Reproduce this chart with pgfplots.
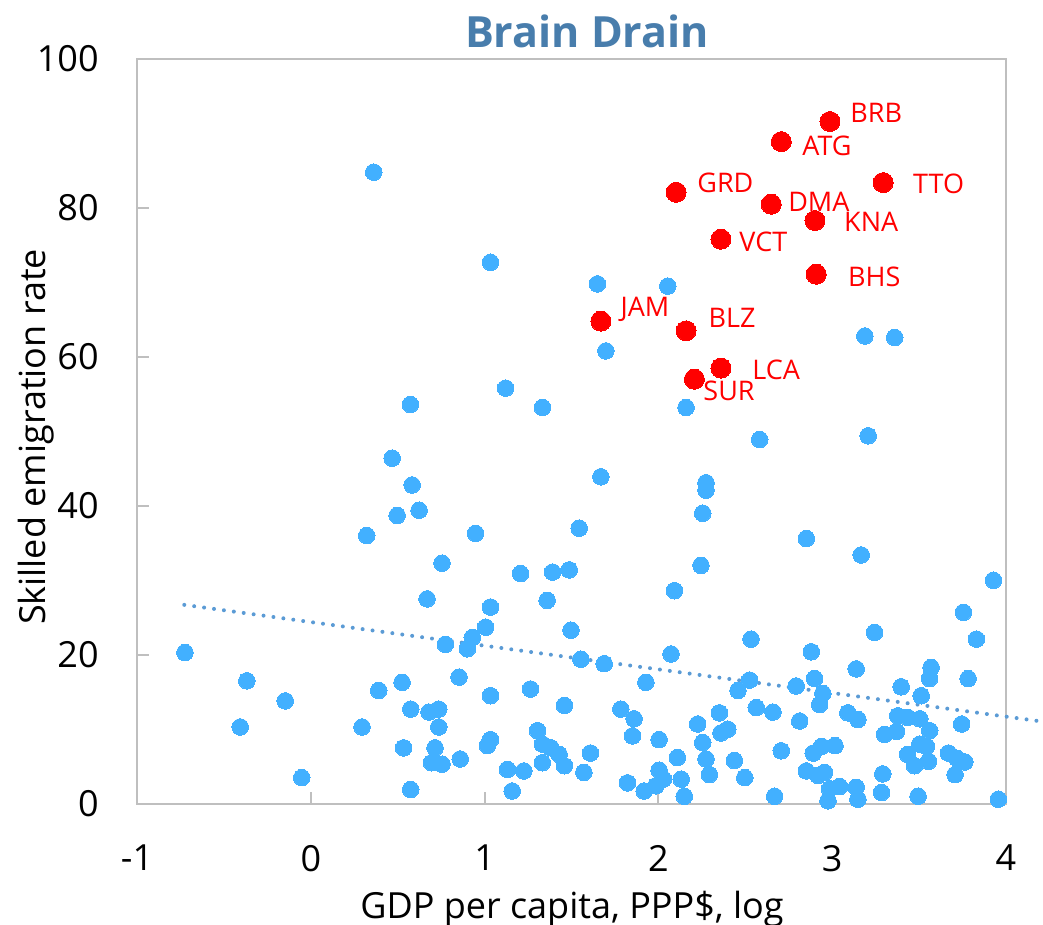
\documentclass[border=0pt]{standalone}
\usepackage{fontspec}
\setmainfont{Open Sans}
\usepackage{pgfplots}
\pgfplotsset{compat=1.18}

\definecolor{ptblue}{RGB}{66,176,255}
\definecolor{ttlblue}{RGB}{72,125,172}
\definecolor{trendblue}{RGB}{91,155,213}
\definecolor{axgray}{RGB}{191,191,191}

\begin{document}
\begin{tikzpicture}[x=1pt,y=1pt]
\path[use as bounding box] (-68.5,-60.65) rectangle (453,401.85);
\begin{axis}[
  at={(0,0)}, anchor=south west,
  scale only axis, width=434.5pt, height=372.35pt,
  xmin=-1, xmax=4, ymin=0, ymax=100,
  xtick={-1,0,1,2,3,4}, ytick={0,20,40,60,80,100},
  tick align=inside, xtick pos=bottom, ytick pos=left,
  major tick length=6pt,
  axis line style={axgray, line width=1pt},
  every tick/.style={axgray, line width=1pt},
  /pgf/number format/assume math mode=true,
  tick label style={font=\fontsize{18}{20}\selectfont, text=black},
  xticklabel style={anchor=north, inner sep=0pt, yshift=-20.5pt},
  yticklabel style={anchor=east, inner sep=0pt, xshift=-19pt},
  clip=false,
]
% trend line
\addplot[trendblue, line width=2pt, line cap=round, dash pattern=on 0pt off 5pt]
  coordinates {(-0.728,26.7) (4.187,11.1)};

% other countries
\addplot[only marks, mark=*, color=ptblue, line width=0pt, mark size=4.15pt]
  coordinates {
(0.362,84.8) (0.573,53.6) (1.034,72.7) (1.649,69.8) (2.054,69.5) (1.698,60.8)
(1.121,55.8) (1.333,53.2) (2.159,53.2) (3.188,62.8) (3.360,62.6) (2.583,48.9)
(3.207,49.4) (0.468,46.4) (0.583,42.8) (0.497,38.7) (0.623,39.4) (0.322,36.0)
(0.755,32.3) (0.669,27.5) (-0.724,20.3) (-0.368,16.5) (-0.147,13.8) (-0.406,10.3)
(-0.052,3.5) (0.391,15.2) (0.525,16.3) (0.295,10.3) (0.575,12.7) (0.680,12.3)
(0.736,12.7) (0.736,10.3) (0.534,7.5) (0.715,7.5) (0.695,5.5) (0.755,5.3)
(0.575,1.9) (1.669,43.9) (2.274,43.1) (2.274,42.1) (2.255,39.0) (1.544,37.0)
(0.948,36.3) (1.207,30.9) (1.391,31.1) (1.487,31.4) (2.245,32.0) (2.092,28.6)
(1.360,27.3) (1.034,26.4) (1.006,23.7) (0.929,22.3) (0.774,21.4) (0.901,20.8)
(1.497,23.3) (1.554,19.4) (1.688,18.8) (2.073,20.1) (1.928,16.3) (0.853,17.0)
(1.034,14.5) (1.264,15.4) (1.459,13.2) (1.784,12.7) (1.860,11.4) (1.851,9.1)
(2.004,8.6) (2.351,12.2) (2.226,10.7) (2.360,9.5) (2.399,10.0) (2.255,8.2)
(2.274,6.0) (2.293,3.9) (2.109,6.2) (2.131,3.3) (2.149,1.0) (2.004,4.5)
(2.029,3.3) (1.985,2.4) (1.918,1.7) (1.822,2.8) (1.609,6.8) (1.571,4.2)
(1.459,5.1) (1.429,6.6) (1.382,7.5) (1.333,8.0) (1.305,9.8) (1.332,5.5)
(1.226,4.4) (1.131,4.6) (1.159,1.7) (1.034,8.6) (1.016,7.8) (0.860,6.0)
(2.851,35.6) (3.167,33.4) (3.928,30.0) (3.755,25.7) (3.244,23.0) (3.830,22.1)
(2.533,22.1) (2.880,20.4) (3.138,18.1) (3.569,18.3) (3.560,16.8) (3.782,16.8)
(2.899,16.8) (2.525,16.6) (2.458,15.2) (2.793,15.8) (2.946,14.8) (3.397,15.7)
(3.512,14.5) (2.928,13.3) (2.563,12.9) (2.659,12.3) (2.813,11.1) (3.090,12.2)
(3.148,11.3) (3.377,11.8) (3.434,11.6) (3.504,11.4) (3.745,10.7) (3.301,9.3)
(3.370,9.7) (3.561,9.8) (3.504,8.0) (3.543,7.7) (3.434,6.6) (3.474,5.1)
(3.554,5.7) (3.669,6.8) (3.717,6.1) (3.763,5.6) (3.707,3.9) (2.707,7.1)
(2.891,6.8) (2.939,7.7) (3.016,7.8) (2.437,5.8) (2.497,3.5) (2.851,4.4)
(2.918,3.8) (2.956,4.2) (2.985,2.0) (3.043,2.3) (2.976,0.4) (3.138,2.2)
(3.148,0.6) (3.291,4.0) (3.284,1.5) (3.494,1.0) (2.669,1.0) (3.956,0.6)
};

% caribbean
\addplot[only marks, mark=*, color=red, line width=0pt, mark size=5pt]
  coordinates {
(2.987,91.6) (2.707,88.9) (3.293,83.4) (2.649,80.5) (2.901,78.3) (2.908,71.1)
(2.102,82.1) (2.360,75.8) (1.669,64.8) (2.159,63.5) (2.360,58.5) (2.207,57.0)
};

\begin{scope}[every node/.style={anchor=west, inner sep=0pt, text=red, font=\fontsize{13.5}{15}\selectfont}]
\node at (axis cs:3.102,92.7) {BRB};
\node at (axis cs:2.826,88.3) {ATG};
\node at (axis cs:3.464,83.3) {TTO};
\node at (axis cs:2.745,80.8) {DMA};
\node at (axis cs:3.067,78.1) {KNA};
\node at (axis cs:3.090,70.8) {BHS};
\node at (axis cs:2.464,75.4) {VCT};
\node at (axis cs:2.539,58.2) {LCA};
\node at (axis cs:2.222,83.3) {GRD};
\node at (axis cs:1.780,66.4) {JAM};
\node at (axis cs:2.286,65.3) {BLZ};
\node at (axis cs:2.257,55.5) {SUR};
\end{scope}
\end{axis}

\node[anchor=base, font=\fontsize{18}{20}\selectfont] at (217.5,-57.15) {GDP per capita, PPP\$, log};
\node[anchor=base, rotate=90, font=\fontsize{18}{20}\selectfont] at (-46,183.35) {Skilled emigration rate};
\node[anchor=base, text=ttlblue, font=\bfseries\fontsize{21.5}{24}\selectfont] at (225,377.85) {Brain Drain};
\end{tikzpicture}
\end{document}
